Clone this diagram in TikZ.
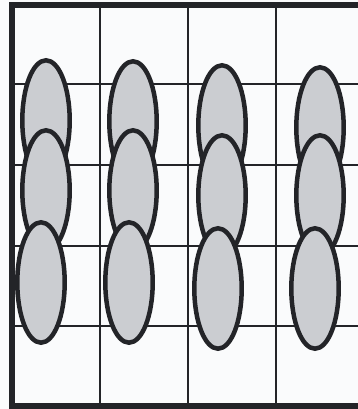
\documentclass[tikz,border=0pt]{standalone}
\definecolor{ink}{RGB}{35,36,40}
\definecolor{cellfill}{RGB}{203,205,209}
\definecolor{paper}{RGB}{250,251,252}
\tikzset{
  gridline/.style={draw=ink, line width=1.2pt},
  frameline/.style={draw=ink, line width=6pt},
  blob/.style={draw=ink, fill=cellfill, line width=4.5pt},
}
\begin{document}
\begin{tikzpicture}[x=1pt,y=1pt]
\fill[paper] (0,0) rectangle (358,409);
\useasboundingbox (0,0) rectangle (358,409);
% grid
\foreach \x in {100,188,276} \draw[gridline] (\x,409-5) -- (\x,409-406);
\foreach \y in {84,165,246,326} \draw[gridline] (12,409-\y) -- (358,409-\y);
% frame (right side cut off)
\draw[frameline] (362,409-5) -- (12,409-5) -- (12,409-406) -- (362,409-406);
% ellipses, top row first so lower ones overlap
\foreach \cx/\cy in {46/120.5,133/121.5,222/125.5,320/127.5}
  \draw[blob] (\cx,409-\cy) ellipse [x radius=23.7, y radius=60.2];
\foreach \cx/\cy in {46/190.5,133/190.5,222/195.5,320/195.5}
  \draw[blob] (\cx,409-\cy) ellipse [x radius=23.7, y radius=60.2];
\foreach \cx/\cy in {41/282.5,129/282.5,218/288.5,315/288.5}
  \draw[blob] (\cx,409-\cy) ellipse [x radius=23.7, y radius=60.2];
\end{tikzpicture}
\end{document}
